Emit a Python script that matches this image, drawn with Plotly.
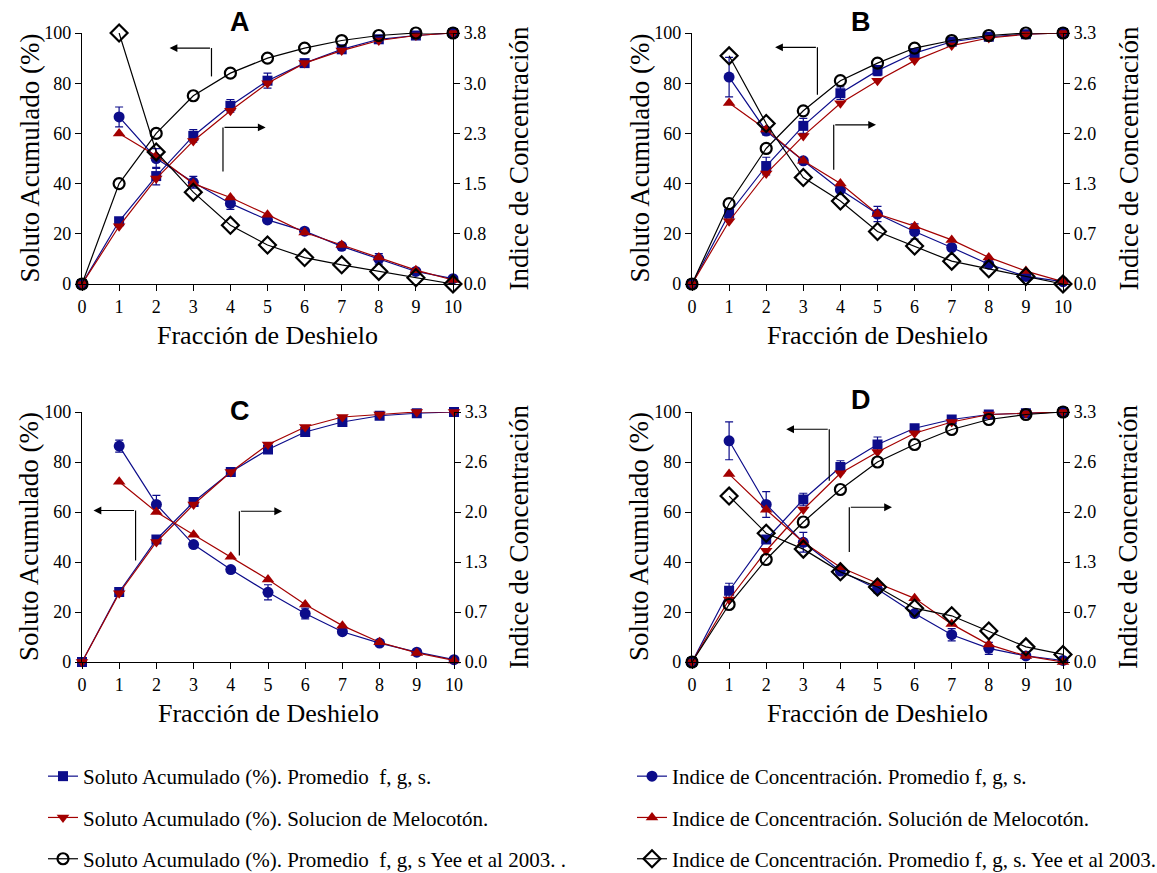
import plotly.graph_objects as go

# ---------------- DATA ----------------
fraccion = list(range(0, 11))
fraccion_ic = list(range(1, 11))

# Panel A  (right axis 0-3.8)
A_sol_prom = [0, 25, 43, 59, 71, 81, 88, 93.5, 97.5, 99, 100]
A_sol_prom_err = [0, 1, 3.5, 2.5, 2.5, 3, 1, 1, 0.5, 0.5, 0]
A_sol_mel = [0, 23, 42, 57, 69, 80, 88, 93, 97, 99, 100]
A_sol_yee = [0, 40, 60, 75, 84, 90, 94, 97, 99, 100, 100]
A_ic_prom = [2.53, 1.90, 1.54, 1.22, 0.97, 0.80, 0.57, 0.38, 0.19, 0.08]
A_ic_prom_err = [0.15, 0.15, 0.09, 0.09, 0.04, 0.04, 0.03, 0.08, 0.02, 0.01]
A_ic_mel = [2.28, 1.94, 1.52, 1.31, 1.05, 0.78, 0.59, 0.40, 0.21, 0.06]
A_ic_yee = [3.80, 2.00, 1.39, 0.89, 0.59, 0.40, 0.29, 0.19, 0.095, 0.0]

# Panel B  (right axis 0-3.3)
B_sol_prom = [0, 28, 47, 63, 76, 85, 92, 96.5, 98.5, 99.5, 100]
B_sol_prom_err = [0, 1, 3.5, 3, 2.5, 2, 1, 0.5, 0.5, 0.5, 0]
B_sol_mel = [0, 25, 44, 59, 72, 81, 89, 95, 98, 99.5, 100]
B_sol_yee = [0, 32, 54, 69, 81, 88, 94, 97, 99, 100, 100]
B_ic_prom = [2.72, 2.01, 1.62, 1.24, 0.92, 0.69, 0.48, 0.26, 0.10, 0.03]
B_ic_prom_err = [0.26, 0.05, 0.03, 0.03, 0.10, 0.10, 0.03, 0.03, 0.02, 0.01]
B_ic_mel = [2.38, 2.03, 1.62, 1.32, 0.92, 0.76, 0.58, 0.35, 0.17, 0.03]
B_ic_yee = [3.00, 2.11, 1.40, 1.09, 0.69, 0.50, 0.30, 0.20, 0.10, 0.0]

# Panel C  (right axis 0-3.3)
C_sol_prom = [0, 28, 49, 64, 76, 85, 92, 96, 98.5, 99.5, 100]
C_sol_prom_err = [0, 1, 1.5, 1.5, 1, 1, 1, 0.5, 0.5, 0.5, 0]
C_sol_mel = [0, 27.5, 48, 63, 76, 87, 94, 98, 99, 100, 100]
C_ic_prom = [2.85, 2.08, 1.55, 1.22, 0.92, 0.64, 0.40, 0.25, 0.13, 0.03]
C_ic_prom_err = [0.08, 0.12, 0.03, 0.03, 0.10, 0.07, 0.03, 0.02, 0.02, 0.01]
C_ic_mel = [2.38, 1.98, 1.68, 1.39, 1.09, 0.76, 0.48, 0.26, 0.12, 0.02]

# Panel D  (right axis 0-3.3)
D_sol_prom = [0, 28.5, 49, 65, 78, 87, 93.5, 97, 99, 99.5, 100]
D_sol_prom_err = [0, 3, 1.5, 2.5, 2.5, 3, 1, 1, 0.5, 0.5, 0]
D_sol_mel = [0, 25, 44.5, 61, 75.5, 84, 91.5, 96, 99, 99.5, 100]
D_sol_yee = [0, 23, 41, 56, 69, 80, 87, 93, 97, 99, 100]
D_ic_prom = [2.92, 2.08, 1.58, 1.20, 0.96, 0.64, 0.36, 0.18, 0.08, 0.02]
D_ic_prom_err = [0.25, 0.17, 0.13, 0.03, 0.03, 0.03, 0.08, 0.08, 0.02, 0.01]
D_ic_mel = [2.48, 2.01, 1.58, 1.25, 1.04, 0.84, 0.50, 0.23, 0.08, 0.0]
D_ic_yee = [2.19, 1.70, 1.49, 1.19, 0.99, 0.71, 0.61, 0.41, 0.20, 0.10]

left_ticks = [0, 20, 40, 60, 80, 100]
right_ticktext_A = ["0.0", "0.8", "1.5", "2.3", "3.0", "3.8"]
right_ticktext_BCD = ["0.0", "0.7", "1.3", "2.0", "2.6", "3.3"]

names = {
    "sp": "Soluto Acumulado (%). Promedio  f, g, s.",
    "sm": "Soluto Acumulado (%). Solucion de Melocotón.",
    "sy": "Soluto Acumulado (%). Promedio  f, g, s Yee et al 2003. .",
    "ip": "Indice de Concentración. Promedio f, g, s.",
    "im": "Indice de Concentración. Solución de Melocotón.",
    "iy": "Indice de Concentración. Promedio f, g, s. Yee et al 2003.",
}

# ---------------- STYLE ----------------
W, H = 1157, 873
BLUE = "#0c0c8a"
RED = "#a30000"
BLACK = "#000000"
SERIF = "Liberation Serif, Times New Roman, serif"

panels = [
    dict(letter="A", px=(82, 453), py=(33, 284), rmax=3.8, rtext=right_ticktext_A,
         sp=A_sol_prom, spe=A_sol_prom_err, sm=A_sol_mel, sy=A_sol_yee,
         ip=A_ic_prom, ipe=A_ic_prom_err, im=A_ic_mel, iy=A_ic_yee,
         lx=240, ly=22,
         arrows=dict(lv=(3.49, 82.7, 94.0, 2.36), rv=(3.80, 44.8, 62.4, 4.95))),
    dict(letter="B", px=(692, 1063), py=(33, 284), rmax=3.3, rtext=right_ticktext_BCD,
         sp=B_sol_prom, spe=B_sol_prom_err, sm=B_sol_mel, sy=B_sol_yee,
         ip=B_ic_prom, ipe=B_ic_prom_err, im=B_ic_mel, iy=B_ic_yee,
         lx=861, ly=22,
         arrows=dict(lv=(3.38, 75.4, 94.3, 2.24), rv=(3.82, 45.5, 63.4, 4.96))),
    dict(letter="C", px=(82, 454), py=(412, 662), rmax=3.3, rtext=right_ticktext_BCD,
         sp=C_sol_prom, spe=C_sol_prom_err, sm=C_sol_mel, sy=None,
         ip=C_ic_prom, ipe=C_ic_prom_err, im=C_ic_mel, iy=None,
         lx=240, ly=411,
         arrows=dict(lv=(1.44, 40.6, 60.6, 0.31), rv=(4.23, 42.6, 60.3, 5.38))),
    dict(letter="D", px=(692, 1063), py=(412, 662), rmax=3.3, rtext=right_ticktext_BCD,
         sp=D_sol_prom, spe=D_sol_prom_err, sm=D_sol_mel, sy=D_sol_yee,
         ip=D_ic_prom, ipe=D_ic_prom_err, im=D_ic_mel, iy=D_ic_yee,
         lx=861, ly=400,
         arrows=dict(lv=(3.70, 72.5, 93.1, 2.54), rv=(4.24, 44.0, 61.9, 5.39))),
]

fig = go.Figure()
layout = dict(
    template="none",
    width=W, height=H, margin=dict(l=0, r=0, t=0, b=0, pad=0, autoexpand=False),
    paper_bgcolor="white", plot_bgcolor="white", showlegend=True,
    font=dict(family=SERIF, size=18, color="black"),
)
annotations = []
shapes = []

tickfont = dict(family=SERIF, size=18, color="black")

for i, p in enumerate(panels):
    n = i + 1
    xa = "x" if n == 1 else f"x{n}"
    yl = "y" if n == 1 else f"y{2*n-1}"
    yr = f"y{2*n}"
    xkey = "xaxis" if n == 1 else f"xaxis{n}"
    ylkey = "yaxis" if n == 1 else f"yaxis{2*n-1}"
    yrkey = f"yaxis{2*n}"
    xd = [p["px"][0] / W, p["px"][1] / W]
    yd = [1 - p["py"][1] / H, 1 - p["py"][0] / H]
    common = dict(showline=True, linecolor="black", linewidth=1.2, ticks="outside",
                  ticklen=6, tickwidth=1.2, tickcolor="black", showgrid=False,
                  zeroline=False, tickfont=tickfont, fixedrange=True, automargin=False)
    layout[xkey] = dict(domain=xd, range=[0, 10], anchor=yl, tickvals=fraccion, **common)
    layout[ylkey] = dict(domain=yd, range=[0, 100], anchor=xa, tickvals=left_ticks, **common)
    rvals = [p["rmax"] * k / 5 for k in range(6)]
    layout[yrkey] = dict(range=[0, p["rmax"]], anchor=xa, overlaying=yl, side="right",
                         tickvals=rvals, ticktext=p["rtext"], **common)

    show = (n == 1)
    # blue soluto (squares)
    fig.add_trace(go.Scatter(
        x=fraccion, y=p["sp"], xaxis=xa, yaxis=yl, mode="lines+markers", name=names["sp"],
        legend="legend", legendgroup="sp", showlegend=show, cliponaxis=False,
        line=dict(color=BLUE, width=1.2),
        marker=dict(symbol="square", size=10, color=BLUE),
        error_y=dict(type="data", array=p["spe"], color=BLUE, thickness=1.2, width=4)))
    # blue index (circles)
    fig.add_trace(go.Scatter(
        x=fraccion_ic, y=p["ip"], xaxis=xa, yaxis=yr, mode="lines+markers", name=names["ip"],
        legend="legend2", legendgroup="ip", showlegend=show, cliponaxis=False,
        line=dict(color=BLUE, width=1.2),
        marker=dict(symbol="circle", size=11, color=BLUE),
        error_y=dict(type="data", array=p["ipe"], color=BLUE, thickness=1.2, width=4)))
    # red soluto (down triangles)
    fig.add_trace(go.Scatter(
        x=fraccion, y=p["sm"], xaxis=xa, yaxis=yl, mode="lines+markers", name=names["sm"],
        legend="legend", legendgroup="sm", showlegend=show, cliponaxis=False,
        line=dict(color=RED, width=1.2),
        marker=dict(symbol="triangle-down", size=11, color=RED)))
    # red index (up triangles)
    fig.add_trace(go.Scatter(
        x=fraccion_ic, y=p["im"], xaxis=xa, yaxis=yr, mode="lines+markers", name=names["im"],
        legend="legend2", legendgroup="im", showlegend=show, cliponaxis=False,
        line=dict(color=RED, width=1.2),
        marker=dict(symbol="triangle-up", size=11, color=RED)))
    if p["sy"] is not None:
        fig.add_trace(go.Scatter(
            x=fraccion, y=p["sy"], xaxis=xa, yaxis=yl, mode="lines+markers", name=names["sy"],
            legend="legend", legendgroup="sy", showlegend=show, cliponaxis=False,
            line=dict(color=BLACK, width=1.2),
            marker=dict(symbol="circle-open", size=11, color=BLACK, line=dict(width=2.2))))
        fig.add_trace(go.Scatter(
            x=fraccion_ic, y=p["iy"], xaxis=xa, yaxis=yr, mode="lines+markers", name=names["iy"],
            legend="legend2", legendgroup="iy", showlegend=show, cliponaxis=False,
            line=dict(color=BLACK, width=1.2),
            marker=dict(symbol="diamond-open", size=13, color=BLACK, line=dict(width=2.2))))

    cx = (p["px"][0] + p["px"][1]) / 2
    cy = (p["py"][0] + p["py"][1]) / 2
    txt = dict(xref="paper", yref="paper", showarrow=False, xanchor="center", yanchor="middle")
    # panel letter
    annotations.append(dict(text=f"<b>{p['letter']}</b>", x=p["lx"] / W, y=1 - p["ly"] / H,
                            font=dict(family="Liberation Sans", size=27, color="black"), **txt))
    # axis titles
    annotations.append(dict(text="Soluto Acumulado (%)", x=(p["px"][0] - 53) / W, y=1 - cy / H,
                            textangle=-90, font=dict(family=SERIF, size=27, color="black"), **txt))
    annotations.append(dict(text="Indice de Concentración", x=(p["px"][1] + 65) / W, y=1 - cy / H,
                            textangle=-90, font=dict(family=SERIF, size=27, color="black"), **txt))
    annotations.append(dict(text="Fracción de Deshielo", x=cx / W, y=1 - (p["py"][1] + 51) / H,
                            font=dict(family=SERIF, size=26, color="black"), **txt))
    # arrows
    for key in ("lv", "rv"):
        vx, y0, y1, tip = p["arrows"][key]
        shapes.append(dict(type="line", xref=xa, yref=yl, x0=vx, x1=vx, y0=y0, y1=y1,
                           line=dict(color="black", width=1.2)))
        annotations.append(dict(x=tip, y=y1, ax=vx, ay=y1, xref=xa, yref=yl, axref=xa, ayref=yl,
                                showarrow=True, arrowhead=2, arrowsize=1.3, arrowwidth=1.2,
                                arrowcolor="black", text=""))

legend_common = dict(font=dict(family=SERIF, size=21, color="black"), bgcolor="rgba(0,0,0,0)",
                     orientation="v", traceorder="grouped", tracegroupgap=11,
                     xanchor="left", yanchor="top", itemwidth=30)
layout["legend"] = dict(x=43 / W, y=1 - 756 / H, **legend_common)
layout["legend2"] = dict(x=632 / W, y=1 - 756 / H, **legend_common)
layout["annotations"] = annotations
layout["shapes"] = shapes
fig.update_layout(**layout)

fig.write_html("out.html", post_script="document.body.style.margin='0';",
               config={"displayModeBar": False})
